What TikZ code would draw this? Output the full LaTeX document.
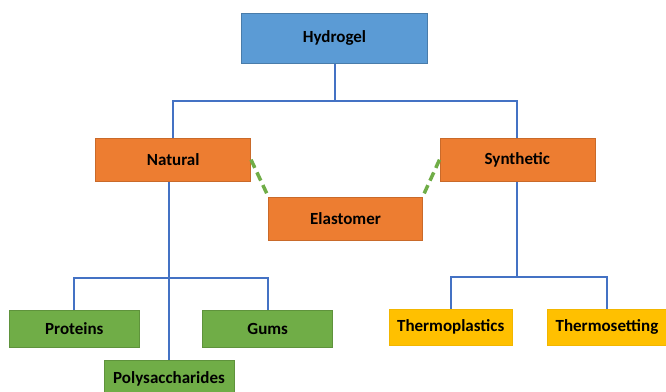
\documentclass[tikz,border=0pt]{standalone}
\usepackage{fontspec}
\setmainfont{Carlito}
\usepackage{tikz}
\definecolor{HydroBlue}{HTML}{5B9BD5}
\definecolor{HydroOrange}{HTML}{ED7D31}
\definecolor{HydroGreen}{HTML}{70AD47}
\definecolor{HydroYellow}{HTML}{FFC000}
\definecolor{LinkBlue}{HTML}{4472C4}
\tikzset{
  box/.style ={draw, line width=0.6pt, text centered, inner sep=0pt,
    font=\fontsize{17}{20}\selectfont\bfseries},
  bluebox/.style ={box, fill=HydroBlue, draw=HydroBlue!80!black},
  orangebox/.style ={box, fill=HydroOrange, draw=HydroOrange!85!black},
  greenbox/.style ={box, fill=HydroGreen, draw=HydroGreen!85!black},
  yellowbox/.style ={box, fill=HydroYellow, draw=HydroYellow!95!black},
  line/.style ={draw, line width=2pt, color=LinkBlue},
  link/.style ={draw, line width=3.5pt, color=HydroGreen, dash pattern=on 9pt off 5pt}
}

\begin{document}
\begin{tikzpicture}[x=1pt,y=-1pt]
	\useasboundingbox (0,0) rectangle (666,391);
	\node[bluebox, minimum width=186pt, minimum height=50pt] (hydrogel) at (334.5,38.3) {Hydrogel};
	\node[orangebox, minimum width=155pt, minimum height=43pt] (natural) at (173.2,159.7) {Natural};
	\node[orangebox, minimum width=155pt, minimum height=43pt] (synthetic) at (517.3,159.7) {Synthetic};
	\node[orangebox, minimum width=154pt, minimum height=43pt] (elastomer) at (345.5,218.3) {Elastomer};
	\node[greenbox, minimum width=130pt, minimum height=37pt] (proteins) at (74.3,328.7) {Proteins};
	\node[greenbox, minimum width=130pt, minimum height=37pt] (gums) at (267.7,328.7) {Gums};
	\node[greenbox, minimum width=130pt, minimum height=37pt] (polysaccharides) at (169,378.5) {Polysaccharides};
	\node[yellowbox, minimum width=123pt, minimum height=36pt] (thermoplastics) at (450.7,327.2) {Thermoplastics};
	\node[yellowbox, minimum width=119pt, minimum height=36pt] (thermosetting) at (607,327.2) {Thermosetting};
	% tree
	\draw[line] (hydrogel.south) -- ++(0,37.7);
	\draw[line] (natural.north) -- ++(0,-37.3) -| (synthetic.north);
	\draw[line] (polysaccharides.north) -- (polysaccharides.north |- natural.south);
	\draw[line] (proteins.north) -- ++(0,-32.2) -| (gums.north);
	\draw[line] (synthetic.south) -- ++(0,96);
	\draw[line] (thermoplastics.north) -- ++(0,-32.3) -| (thermosetting.north);
	% elastomer links
	\draw[link] (natural.east) -- (elastomer.north west);
	\draw[link] (synthetic.west) -- (elastomer.north east);
\end{tikzpicture}
\end{document}
